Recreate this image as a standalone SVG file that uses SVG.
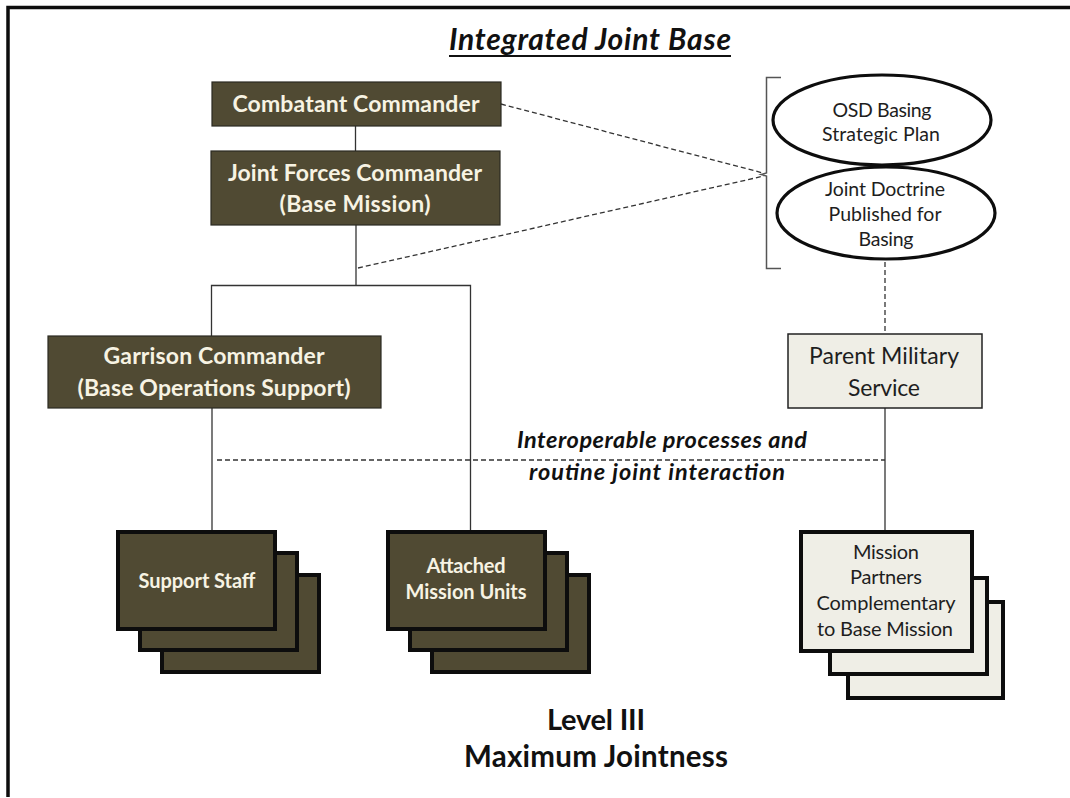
<svg xmlns="http://www.w3.org/2000/svg" width="1070" height="798" viewBox="0 0 1070 798">
  <style>
    .dark { fill: #504a33; stroke: #2b2a22; stroke-width: 1.2; }
    .darkstack { fill: #504a33; stroke: #0d0d0d; stroke-width: 4; }
    .light { fill: #efeee6; stroke: #222; stroke-width: 1.5; }
    .lightstack { fill: #efeee6; stroke: #0d0d0d; stroke-width: 4; }
    .oval { fill: #ffffff; stroke: #0d0d0d; stroke-width: 3.2; }
    .wt { font-family: Lato, "Open Sans", sans-serif; font-weight: 700; fill: #f7f3e3; text-anchor: middle; }
    .bt { font-family: Lato, "Open Sans", sans-serif; font-weight: 400; fill: #1e1e1e; text-anchor: middle; }
    .hd { font-family: Lato, "Open Sans", sans-serif; font-weight: 700; fill: #111; text-anchor: middle; }
    .solid { fill: none; stroke: #333; stroke-width: 1.3; }
    .dash { fill: none; stroke: #333; stroke-width: 1.3; stroke-dasharray: 5 3; }
  </style>

  <rect x="0" y="0" width="1070" height="798" fill="#ffffff"/>
  <!-- frame -->
  <path d="M8 797 V7.5 H1070" fill="none" stroke="#0d0d0d" stroke-width="3.5"/>

  <!-- heading -->
  <g id="title">
    <text x="590" y="50" class="hd" font-size="30" font-style="italic" textLength="282">Integrated Joint Base</text>
    <line x1="449" y1="56" x2="731" y2="56" stroke="#111" stroke-width="2"/>
  </g>

  <!-- connectors -->
  <g id="connectors">
    <line class="solid" x1="355.5" y1="126" x2="355.5" y2="151"/>
    <line class="solid" x1="356" y1="225" x2="356" y2="285"/>
    <path class="solid" d="M211.5 336 V285.5 H470.5 V532"/>
    <line class="solid" x1="212" y1="408" x2="212" y2="532"/>
    <line class="solid" x1="885" y1="408" x2="885" y2="532"/>
    <line class="dash" x1="885" y1="262" x2="885" y2="334"/>
    <line class="dash" x1="217" y1="460" x2="885" y2="460"/>
    <line class="dash" x1="501" y1="104" x2="763" y2="173"/>
    <line class="dash" x1="358" y1="268" x2="764" y2="176"/>
    <!-- bracket -->
    <path d="M781 77.5 H766.5 V173 L761 174.5 L766.5 176 V268.5 H781" fill="none" stroke="#555" stroke-width="1.5"/>
  </g>

  <g id="combatant-commander">
    <rect class="dark" x="212" y="82" width="289" height="44"/>
    <text class="wt" x="356" y="112" font-size="23" textLength="247">Combatant Commander</text>
  </g>

  <g id="joint-forces-commander">
    <rect class="dark" x="211" y="151" width="289" height="74"/>
    <text class="wt" x="355" y="181" font-size="23" textLength="254">Joint Forces Commander</text>
    <text class="wt" x="355" y="212" font-size="23" textLength="151">(Base Mission)</text>
  </g>

  <g id="garrison-commander">
    <rect class="dark" x="48" y="336" width="333" height="72"/>
    <text class="wt" x="214" y="364" font-size="23" textLength="221">Garrison Commander</text>
    <text class="wt" x="214" y="396" font-size="23" textLength="273">(Base Operations Support)</text>
  </g>

  <g id="osd-basing-plan">
    <ellipse class="oval" cx="882" cy="120" rx="109" ry="45"/>
    <text class="bt" x="882" y="117" font-size="19.5" textLength="99">OSD Basing</text>
    <text class="bt" x="881" y="141" font-size="19.5" textLength="118">Strategic Plan</text>
  </g>

  <g id="joint-doctrine">
    <ellipse class="oval" cx="886" cy="213" rx="109" ry="46"/>
    <text class="bt" x="885" y="196" font-size="19.5" textLength="120">Joint Doctrine</text>
    <text class="bt" x="885" y="221" font-size="19.5" textLength="113">Published for</text>
    <text class="bt" x="886" y="246" font-size="19.5" textLength="55">Basing</text>
  </g>

  <g id="parent-military-service">
    <rect class="light" x="788" y="334" width="194" height="74"/>
    <text class="bt" x="884" y="364" font-size="23" textLength="150">Parent Military</text>
    <text class="bt" x="884" y="396" font-size="23" textLength="72">Service</text>
  </g>

  <g id="interaction-label">
    <text class="hd" x="662" y="448" font-size="23.5" font-style="italic" textLength="290">Interoperable processes and</text>
    <text class="hd" x="657" y="480" font-size="23.5" font-style="italic" textLength="256">routine joint interaction</text>
  </g>

  <g id="support-staff">
    <rect class="darkstack" x="162" y="575" width="157" height="97"/>
    <rect class="darkstack" x="140" y="553" width="157" height="97"/>
    <rect class="darkstack" x="118" y="532" width="157" height="97"/>
    <text class="wt" x="197" y="588" font-size="20" textLength="117">Support Staff</text>
  </g>

  <g id="attached-mission-units">
    <rect class="darkstack" x="432" y="575" width="157" height="97"/>
    <rect class="darkstack" x="410" y="553" width="157" height="97"/>
    <rect class="darkstack" x="388" y="532" width="157" height="97"/>
    <text class="wt" x="466" y="573" font-size="20" textLength="79">Attached</text>
    <text class="wt" x="466" y="599" font-size="20" textLength="121">Mission Units</text>
  </g>

  <g id="mission-partners">
    <rect class="lightstack" x="848" y="602" width="155" height="96"/>
    <rect class="lightstack" x="830" y="578" width="157" height="96"/>
    <rect class="lightstack" x="801" y="532" width="171" height="119"/>
    <text class="bt" x="886" y="559" font-size="20" textLength="66">Mission</text>
    <text class="bt" x="886" y="584" font-size="20" textLength="72">Partners</text>
    <text class="bt" x="886" y="610" font-size="20" textLength="139">Complementary</text>
    <text class="bt" x="885" y="636" font-size="20" textLength="136">to Base Mission</text>
  </g>

  <g id="level-label">
    <text class="hd" x="596" y="730" font-size="29" textLength="98">Level III</text>
    <text class="hd" x="596" y="767" font-size="29.5" textLength="264">Maximum Jointness</text>
  </g>
</svg>
